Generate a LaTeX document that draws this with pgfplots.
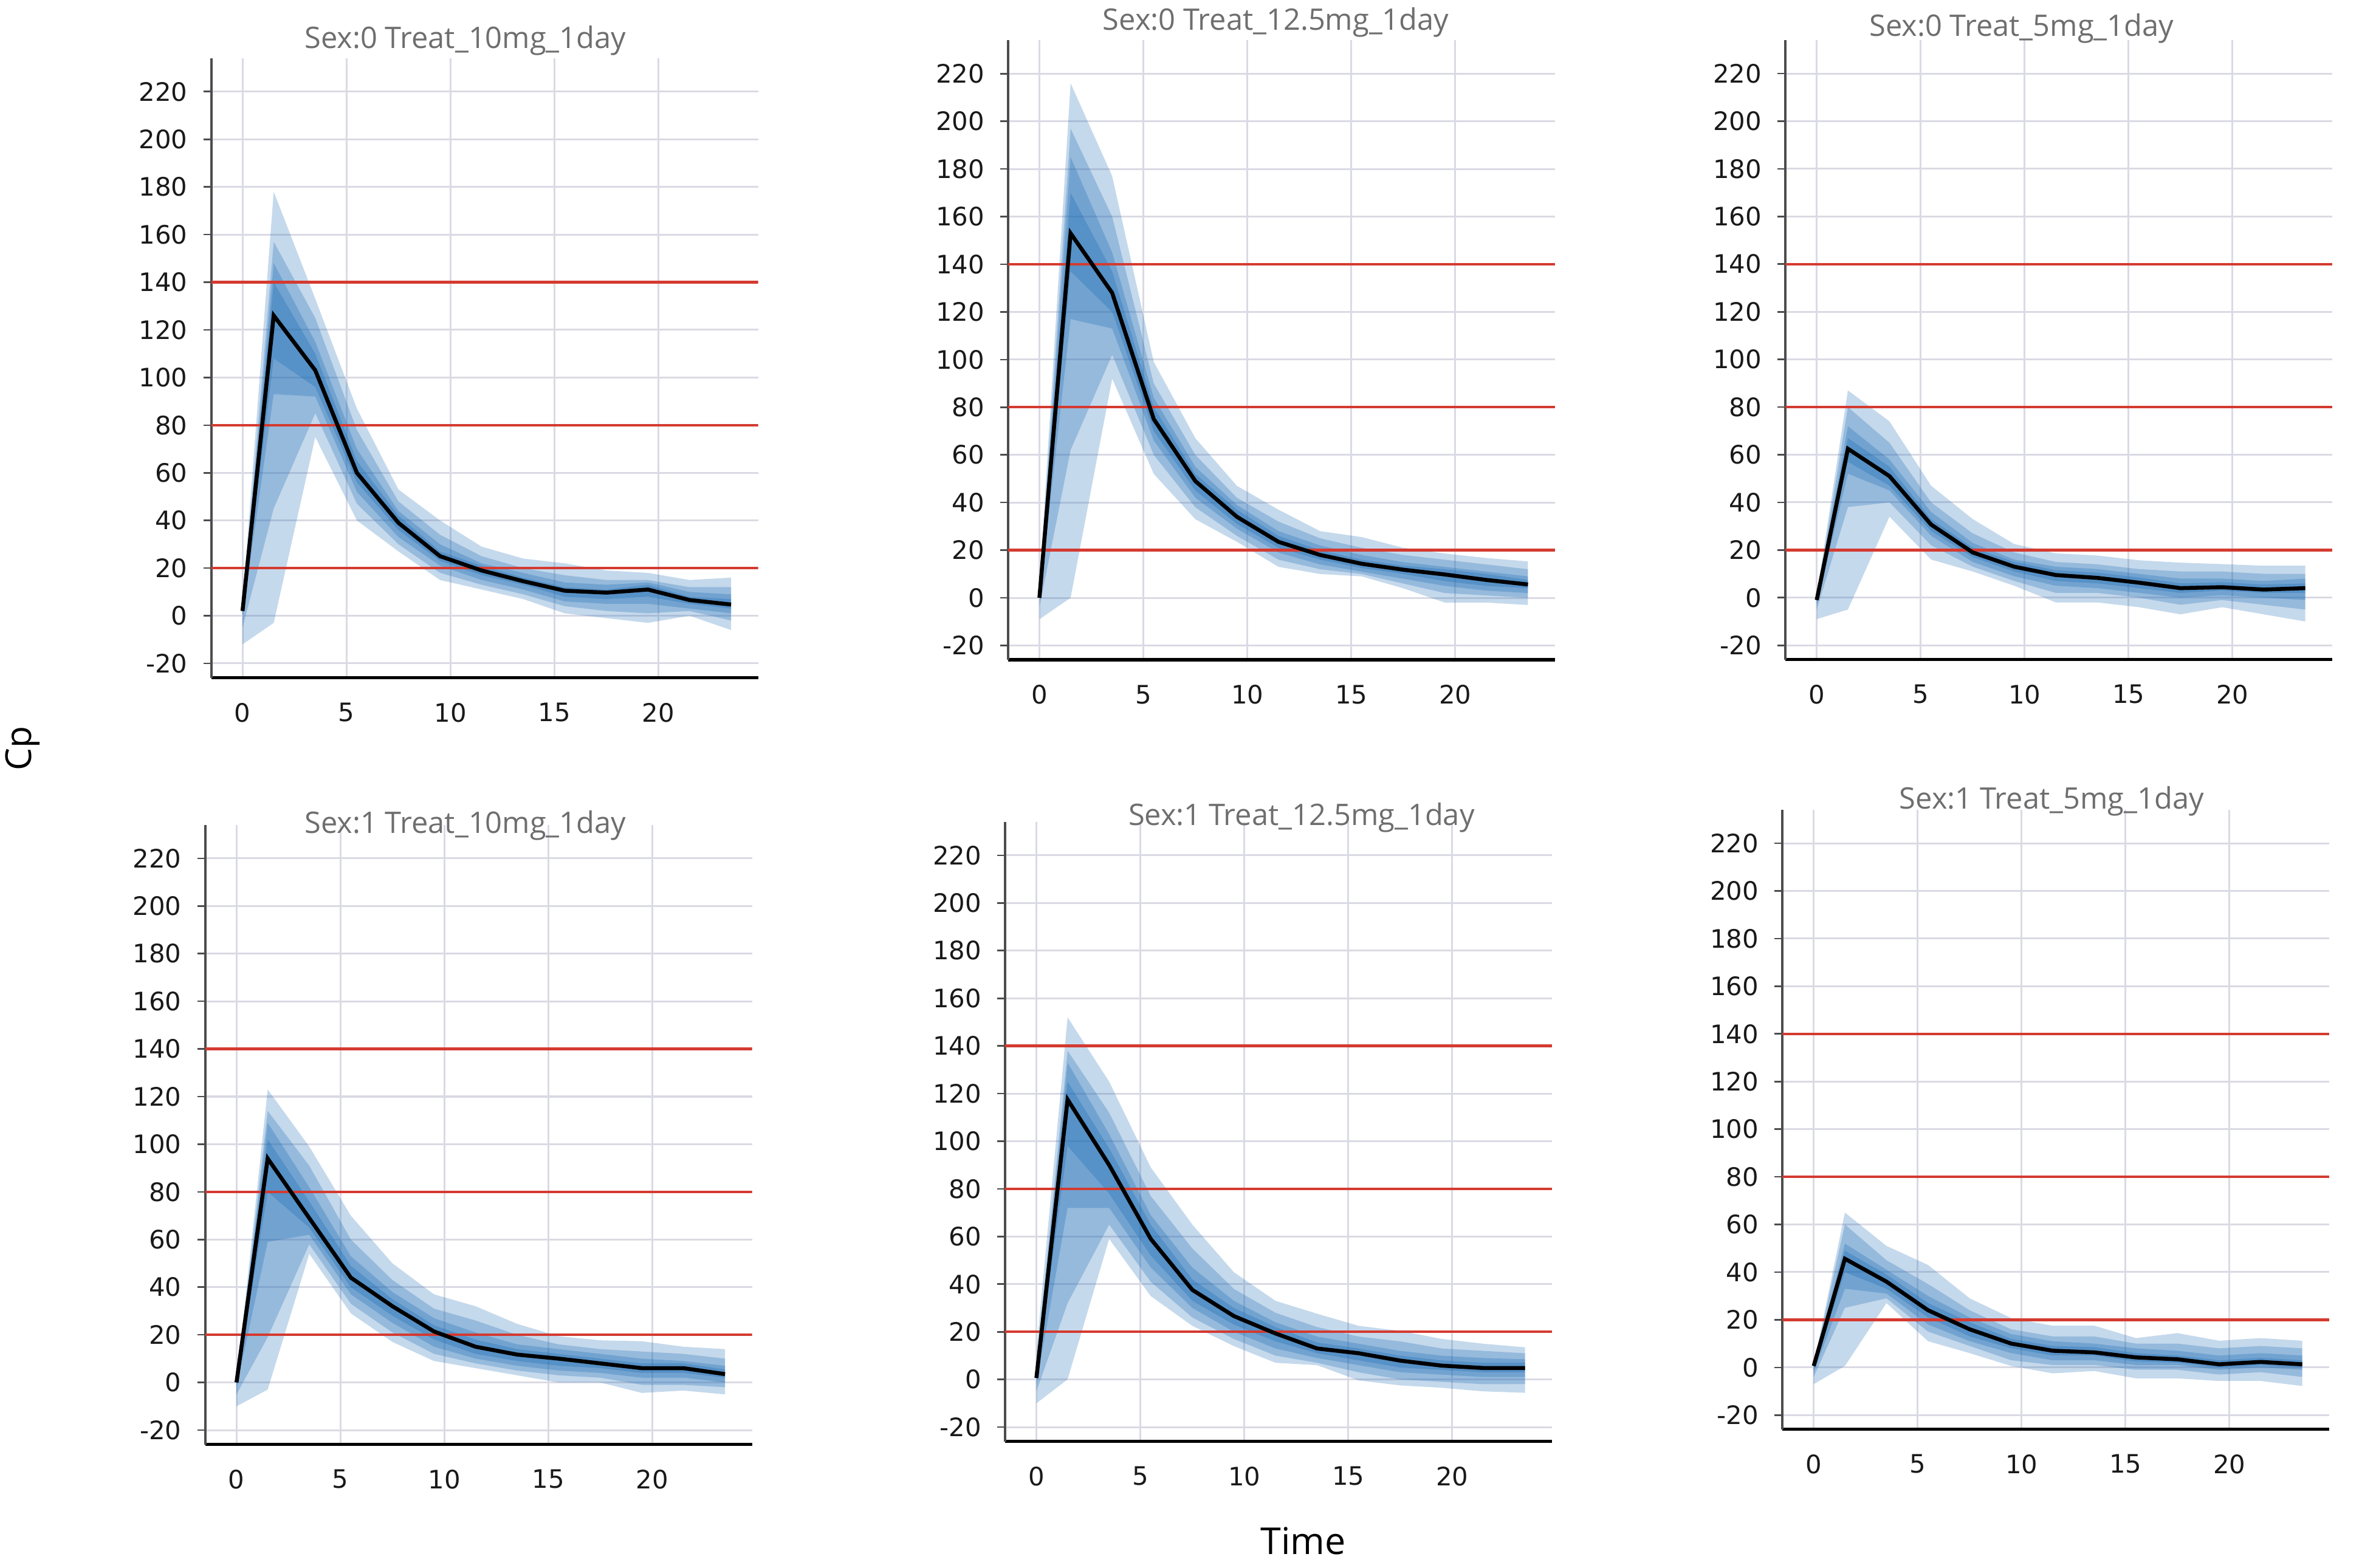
\documentclass[border=0pt]{standalone}
\usepackage{fontspec}
\setmainfont{Open Sans}
\newfontfamily\tickfont{DejaVu Sans}
\usepackage{pgfplots}
\pgfplotsset{compat=1.18}
\usepackage{pgfplotstable}
\usepgfplotslibrary{fillbetween}

\definecolor{band}{RGB}{30,108,180}
\definecolor{refred}{RGB}{212,58,48}
\definecolor{gridc}{RGB}{218,218,228}
\definecolor{titlec}{RGB}{110,110,110}

% columns: t, outer band (alo,ahi), band b, band c, inner band d, median
\pgfplotstableread{
t alo ahi blo bhi clo chi dlo dhi med
0 -12 5 -5 4 0 3 1 3 2
1.5 -3 178 45 157 93 148 108 140 126
3.5 75 133 85 125 92 115 96 110 103
5.5 40 87 47 78 52 70 56 65 60
7.5 27 53 30 48 33 44 36 42 39
9.5 15 40 18 34 21 30 23 27 25
11.5 11 29 13 25 15 22 17 21 19
13.5 7 24 9 20 11 18 13 16 14.5
15.5 1 22 4 17 6 14 8 12 10.5
17.5 -1 19 2 15 5 13 7 11 9.7
19.5 -3 18 1 15 5 14 8 13 11
21.5 0 15 2 12 3 10 5 8 6.6
23.5 -6 16 -2 12 1 9 3 7 4.7
}\tabA
\pgfplotstableread{
t alo ahi blo bhi clo chi dlo dhi med
0 -9 5 -4 3 -1 2 0 1 0
1.5 0 216 62 197 117 185 137 170 153
3.5 92 177 102 160 113 145 120 137 128
5.5 52 99 60 90 66 84 70 80 75
7.5 33 67 38 60 42 55 45 52 49
9.5 23.5 47 26 42 29 39 31 37 34
11.5 13 37 16 32 19 28 21 26 23.5
13.5 10 28 12 25 14 22 16 20 18
15.5 9 25.5 10 21 11 18 12.5 16 14.3
17.5 4 21 6 18 8 15 10 13.5 11.8
19.5 -2 18.6 2 16 5 13 7 12 9.8
21.5 -2 16.7 1 14 3 11 5 10 7.5
23.5 -3 15.3 0 12 2 9 4 7.5 5.6
}\tabB
\pgfplotstableread{
t alo ahi blo bhi clo chi dlo dhi med
0 -9 1 -5 0 -3 0 -2 0 -1
1.5 -5 87 38 80 52 72 57 67 62.5
3.5 34 74 40 65 45 58 47 55 51
5.5 16 47 22 40 26 36 28 33 30.7
7.5 11 33 13 27 15 23 17 21 19
9.5 5 22.5 7 19 9 16 11 15 13
11.5 -2 18.6 2 15 5 13 7 11.5 9.5
13.5 -2 17.7 2 14 4 12 6 10.5 8.3
15.5 -4 15.7 0 12 2 10 4 8.5 6.3
17.5 -7 14.7 -3 11 0 8 2 6 4
19.5 -4 14.1 -1 11 1 8 3 6.5 4.4
21.5 -7 13.4 -3 10 0 7 2 5.5 3.4
23.5 -10 13.4 -5 10 -1 8 2 6 4
}\tabC
\pgfplotstableread{
t alo ahi blo bhi clo chi dlo dhi med
0 -10 0 -5 0 -2 0 -1 0 0
1.5 -3 123 19 114 59 109 80 102 94
3.5 54 99 58 91 62 82 65 76 69
5.5 29 70 33 60 37 53 40 49 44
7.5 17 50 21 43 25 38 28 35 32
9.5 9 37 12 31 15 27 18 24 21.4
11.5 6 32 8 26 10 21 12 18 15
13.5 3 24.6 5 20 7 16 9 14 11.7
15.5 0 19.4 3 16 5 14 7 12 10
17.5 0 17.7 2 14 4 12 6 10 8
19.5 -4.4 17.3 -1 13 2 10 4 8 6
21.5 -3.4 15 -1 12 2 9 4 8 6
23.5 -5 14 -2 10 0 7 2 5.5 3.5
}\tabD
\pgfplotstableread{
t alo ahi blo bhi clo chi dlo dhi med
0 -10 12 -5 6 -2 3 0 1 0.6
1.5 0 152 32 138 72 133 98 125 117.5
3.5 59 125 65 112 72 103 78 97 90
5.5 35 89 41 77 47 69 52 65 59
7.5 22.5 65 26 55 30 47 33 42 37.6
9.5 14 45 17 38 20 33 23 30 26.6
11.5 7 33 10 28 13 24 16 22 19.3
13.5 6 27.6 7 22 9 18 11 15.5 13
15.5 -0.4 22.5 3 18 6 15 8 13 11
17.5 -2.5 20.4 0 16 3 12 5 10 7.9
19.5 -3.5 17 -1 13 2 10 4 8 5.8
21.5 -5 15 -2 12 1 9 3 7 4.8
23.5 -5.6 13.5 -2 11 1 8.5 3 7 4.8
}\tabE
\pgfplotstableread{
t alo ahi blo bhi clo chi dlo dhi med
0 -7 1 -4 1 -2 1 -1 1 0.6
1.5 0.6 65 25 60 33 52 40 49 45.6
3.5 27 51 29 45 31 41 33 39 36
5.5 11 43 15 35 18 30 21 27 24
7.5 6 29 9 24 11 21 13 19 16
9.5 0.6 20.7 3 16 6 14 8 12 10
11.5 -2.5 17.5 1 13 3 11 5 9 7
13.5 -1.5 17.5 1 13 3 10 5 8.5 6.3
15.5 -4.6 12.3 -1 10 1 8 2.5 6 4.2
17.5 -4.6 14.4 -1 10 1 7 2 5 3.4
19.5 -5.7 11.2 -3 8 -1 5 0 3 1.3
21.5 -5.7 12.3 -2 9 0 6 1 4 2.3
23.5 -7.8 11.2 -4 8 -1 5 0 3 1.3
}\tabF

\pgfplotsset{pkpanel/.style={
  scale only axis, width=7.259cm, height=8.226cm,
  anchor=south west,
  xmin=-1.5, xmax=24.8, ymin=-26, ymax=234,
  axis x line*=bottom, axis y line*=left,
  x axis line style={-, black, line width=1.2pt},
  y axis line style={-, black!70, line width=0.9pt},
  xtick={0,5,10,15,20}, ytick={-20,0,...,220},
  grid=major, major grid style={gridc, line width=0.7pt},
  tick align=outside, major tick length=3pt,
  xtick style={draw=none}, ytick style={black!70, line width=0.6pt},
  tick label style={font=\tickfont\fontsize{9.6}{10}\selectfont, text=black!90},
  /pgf/number format/assume math mode=true,
  xticklabel style={yshift=-3pt},
  yticklabel style={xshift=-2.5pt},
}}

\newcommand{\pkpanel}[2]{%
\begin{axis}[pkpanel, at={#2}]
\addplot[name path=ahi, draw=none] table[x=t,y=ahi]{#1};
\addplot[name path=alo, draw=none] table[x=t,y=alo]{#1};
\addplot[fill=band, fill opacity=0.26, draw=none] fill between[of=ahi and alo];
\addplot[name path=bhi, draw=none] table[x=t,y=bhi]{#1};
\addplot[name path=blo, draw=none] table[x=t,y=blo]{#1};
\addplot[fill=band, fill opacity=0.28, draw=none] fill between[of=bhi and blo];
\addplot[name path=chi, draw=none] table[x=t,y=chi]{#1};
\addplot[name path=clo, draw=none] table[x=t,y=clo]{#1};
\addplot[fill=band, fill opacity=0.3, draw=none] fill between[of=chi and clo];
\addplot[name path=dhi, draw=none] table[x=t,y=dhi]{#1};
\addplot[name path=dlo, draw=none] table[x=t,y=dlo]{#1};
\addplot[fill=band, fill opacity=0.32, draw=none] fill between[of=dhi and dlo];
\addplot[refred, line width=1pt] coordinates {(-1.5,20) (24.8,20)};
\addplot[refred, line width=1pt] coordinates {(-1.5,80) (24.8,80)};
\addplot[refred, line width=1pt] coordinates {(-1.5,140) (24.8,140)};
\addplot[black, line width=1.5pt] table[x=t,y=med]{#1};
\end{axis}}

\begin{document}
\begin{tikzpicture}
\pkpanel{\tabA}{(2.806cm,11.82cm)}
\pkpanel{\tabB}{(13.386cm,12.058cm)}
\pkpanel{\tabC}{(23.706cm,12.06cm)}
\pkpanel{\tabD}{(2.726cm,1.638cm)}
\pkpanel{\tabE}{(13.346cm,1.678cm)}
\pkpanel{\tabF}{(23.666cm,1.838cm)}
\begin{scope}[every node/.style={font=\fontsize{11.2}{13}\selectfont, text=titlec}]
\node at (6.18cm,20.28cm) {Sex:0 Treat\_10mg\_1day};
\node at (16.94cm,20.52cm) {Sex:0 Treat\_12.5mg\_1day};
\node at (26.84cm,20.44cm) {Sex:0 Treat\_5mg\_1day};
\node at (6.18cm,9.86cm) {Sex:1 Treat\_10mg\_1day};
\node at (17.28cm,9.96cm) {Sex:1 Treat\_12.5mg\_1day};
\node at (27.24cm,10.18cm) {Sex:1 Treat\_5mg\_1day};
\end{scope}
\node[rotate=90, font=\fontsize{13.5}{14}\selectfont] at (0.30cm,10.88cm) {Cp};
\node[font=\fontsize{14}{15}\selectfont] at (17.30cm,0.36cm) {Time};
\pgfresetboundingbox
\path[use as bounding box] (0,0) rectangle (31.36cm,20.82cm);
\end{tikzpicture}
\end{document}
